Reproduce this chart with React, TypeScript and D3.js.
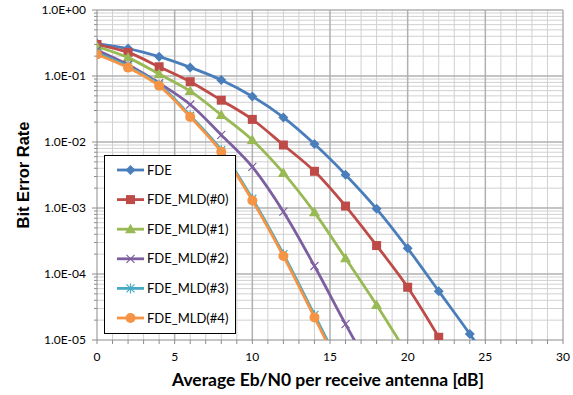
import React, { useEffect, useRef } from 'react'
import * as d3 from 'd3'

// Eb/N0 points (dB), step 2
const snrFDE = [0, 2, 4, 6, 8, 10, 12, 14, 16, 18, 20, 22, 24, 26]
const berFDE = [0.31, 0.26, 0.196, 0.135, 0.087, 0.049, 0.0236, 0.0093, 0.0032, 0.00097, 0.000245, 5.5e-5, 1.23e-5, 2.5e-6]
const snrMLD0 = [0, 2, 4, 6, 8, 10, 12, 14, 16, 18, 20, 22]
const berMLD0 = [0.3, 0.228, 0.138, 0.082, 0.043, 0.022, 0.009, 0.0036, 0.00107, 0.00027, 6.3e-5, 1.1e-5]
const snrMLD1 = [0, 2, 4, 6, 8, 10, 12, 14, 16, 18, 20]
const berMLD1 = [0.28, 0.19, 0.107, 0.059, 0.0257, 0.0107, 0.0034, 0.00086, 0.000173, 3.4e-5, 6e-6]
const snrMLD2 = [0, 2, 4, 6, 8, 10, 12, 14, 16, 18]
const berMLD2 = [0.245, 0.148, 0.078, 0.037, 0.0128, 0.0042, 0.00088, 0.000132, 1.74e-5, 2.5e-6]
const snrMLD3 = [0, 2, 4, 6, 8, 10, 12, 14, 16]
const berMLD3 = [0.222, 0.139, 0.074, 0.025, 0.0075, 0.00138, 0.0002, 2.4e-5, 2.8e-6]
const snrMLD4 = [0, 2, 4, 6, 8, 10, 12, 14, 16]
const berMLD4 = [0.212, 0.134, 0.071, 0.024, 0.0071, 0.0013, 0.000187, 2.2e-5, 2.5e-6]

const seriesNames = ['FDE', 'FDE_MLD(#0)', 'FDE_MLD(#1)', 'FDE_MLD(#2)', 'FDE_MLD(#3)', 'FDE_MLD(#4)']
const seriesColors = ['#4a7ebb', '#be4b48', '#98b954', '#7d5fa0', '#46aac5', '#f59444']
const seriesMarkers = ['diamond', 'square', 'triangle', 'x', 'star', 'circle']
const seriesX = [snrFDE, snrMLD0, snrMLD1, snrMLD2, snrMLD3, snrMLD4]
const seriesY = [berFDE, berMLD0, berMLD1, berMLD2, berMLD3, berMLD4]

const xTicks = [0, 5, 10, 15, 20, 25, 30]
const yTicks = [1, 1e-1, 1e-2, 1e-3, 1e-4, 1e-5]

const fmtE = (v: number) => {
  const e = Math.round(Math.log10(v))
  const s = e < 0 ? '-' : '+'
  return `1.0E${s}${String(Math.abs(e)).padStart(2, '0')}`
}

function drawMarker(g: any, kind: string, cx: number, cy: number, color: string) {
  if (kind === 'diamond') {
    g.append('path').attr('d', `M${cx},${cy - 5}L${cx + 5},${cy}L${cx},${cy + 5}L${cx - 5},${cy}Z`).attr('fill', color)
  } else if (kind === 'square') {
    g.append('rect').attr('x', cx - 4.5).attr('y', cy - 4.5).attr('width', 9).attr('height', 9).attr('fill', color)
  } else if (kind === 'triangle') {
    g.append('path').attr('d', `M${cx},${cy - 5.5}L${cx + 5.5},${cy + 4}L${cx - 5.5},${cy + 4}Z`).attr('fill', color)
  } else if (kind === 'x') {
    g.append('path').attr('d', `M${cx - 4},${cy - 4}L${cx + 4},${cy + 4}M${cx + 4},${cy - 4}L${cx - 4},${cy + 4}`)
      .attr('stroke', color).attr('stroke-width', 1.2).attr('fill', 'none')
  } else if (kind === 'star') {
    g.append('path').attr('d', `M${cx - 4},${cy - 4}L${cx + 4},${cy + 4}M${cx + 4},${cy - 4}L${cx - 4},${cy + 4}M${cx},${cy - 5}L${cx},${cy + 5}`)
      .attr('stroke', color).attr('stroke-width', 1.2).attr('fill', 'none')
  } else {
    g.append('circle').attr('cx', cx).attr('cy', cy).attr('r', 5).attr('fill', color)
  }
}

export default function App() {
  const svgRef = useRef<SVGSVGElement>(null)

  useEffect(() => {
    const width = 573, height = 395
    const m = { left: 97, right: 10, top: 10, bottom: 55 }
    const svg = d3.select(svgRef.current)
    svg.selectAll('*').remove()
    const x = d3.scaleLinear().domain([0, 30]).range([m.left, width - m.right])
    const y = d3.scaleLog().domain([1e-5, 1]).range([height - m.bottom, m.top])
    const font = 'Lato, "Open Sans", sans-serif'

    svg.append('rect').attr('width', width).attr('height', height).attr('fill', '#fff')

    // grid
    const grid = svg.append('g')
    const minorY: number[] = []
    for (let e = -5; e < 0; e++) for (let k = 2; k <= 9; k++) minorY.push(k * Math.pow(10, e))
    grid.selectAll('.gy').data(minorY).join('line')
      .attr('x1', x(0)).attr('x2', x(30)).attr('y1', d => y(d)).attr('y2', d => y(d))
      .attr('stroke', '#d0d0d0').attr('stroke-width', 1)
    grid.selectAll('.gx').data(d3.range(1, 31).filter(v => v % 5 !== 0)).join('line')
      .attr('x1', d => x(d)).attr('x2', d => x(d)).attr('y1', y(1)).attr('y2', y(1e-5))
      .attr('stroke', '#d0d0d0').attr('stroke-width', 1)
    grid.selectAll('.gyM').data(yTicks.slice(0, 5)).join('line')
      .attr('x1', x(0)).attr('x2', x(30)).attr('y1', d => y(d)).attr('y2', d => y(d))
      .attr('stroke', '#b0b0b0').attr('stroke-width', 1.5)
    grid.selectAll('.gxM').data(xTicks.slice(1)).join('line')
      .attr('x1', d => x(d)).attr('x2', d => x(d)).attr('y1', y(1)).attr('y2', y(1e-5))
      .attr('stroke', '#b0b0b0').attr('stroke-width', 1.5)

    // axes
    const ax = svg.append('g')
    ax.append('line').attr('x1', x(0)).attr('x2', x(30)).attr('y1', y(1e-5)).attr('y2', y(1e-5)).attr('stroke', '#8c8c8c')
    ax.append('line').attr('x1', x(0)).attr('x2', x(0)).attr('y1', y(1)).attr('y2', y(1e-5)).attr('stroke', '#8c8c8c')
    ax.selectAll('.tx').data(d3.range(0, 31)).join('line')
      .attr('x1', d => x(d)).attr('x2', d => x(d)).attr('y1', y(1e-5)).attr('y2', y(1e-5) + 4).attr('stroke', '#8c8c8c')
    ax.selectAll('.tym').data(minorY).join('line')
      .attr('x1', x(0) - 3).attr('x2', x(0)).attr('y1', d => y(d)).attr('y2', d => y(d)).attr('stroke', '#8c8c8c')
    ax.selectAll('.tyM').data(yTicks).join('line')
      .attr('x1', x(0) - 5).attr('x2', x(0)).attr('y1', d => y(d)).attr('y2', d => y(d)).attr('stroke', '#8c8c8c')
    ax.selectAll('.lx').data(xTicks).join('text')
      .attr('x', d => x(d)).attr('y', y(1e-5) + 21).attr('text-anchor', 'middle')
      .attr('font-family', font).attr('font-size', 12).attr('fill', '#000').text(d => d)
    ax.selectAll('.ly').data(yTicks).join('text')
      .attr('x', x(0) - 11).attr('y', d => y(d) + 4).attr('text-anchor', 'end')
      .attr('font-family', font).attr('font-size', 12).attr('fill', '#000').text(d => fmtE(d))

    svg.append('text').attr('transform', `translate(29,${(y(1) + y(1e-5)) / 2}) rotate(-90)`)
      .attr('text-anchor', 'middle').attr('font-family', '"Liberation Sans", Arial, sans-serif')
      .attr('font-weight', 'bold').attr('font-size', 16)
      .attr('textLength', 107).attr('lengthAdjust', 'spacingAndGlyphs').text('Bit Error Rate')
    svg.append('text').attr('x', 328).attr('y', 386).attr('text-anchor', 'middle')
      .attr('font-family', font).attr('font-weight', 'bold').attr('font-size', 16.5)
      .attr('textLength', 312).attr('lengthAdjust', 'spacingAndGlyphs')
      .text('Average Eb/N0 per receive antenna [dB]')

    // series
    svg.append('clipPath').attr('id', 'plotclip').append('rect')
      .attr('x', x(0)).attr('y', y(1)).attr('width', x(30) - x(0)).attr('height', y(1e-5) - y(1))
    const plot = svg.append('g').attr('clip-path', 'url(#plotclip)')
    const line = d3.line<[number, number]>().x(d => x(d[0])).y(d => y(d[1])).curve(d3.curveCatmullRom)
    seriesNames.forEach((name, i) => {
      const pts: [number, number][] = seriesX[i].map((v, j) => [v, seriesY[i][j]])
      plot.append('path').datum(pts).attr('d', line).attr('fill', 'none')
        .attr('stroke', seriesColors[i]).attr('stroke-width', 2.8)
      const mg = plot.append('g')
      pts.forEach(p => drawMarker(mg, seriesMarkers[i], x(p[0]), y(p[1]), seriesColors[i]))
    })

    // legend
    const lg = svg.append('g')
    lg.append('rect').attr('x', 104.5).attr('y', 155.5).attr('width', 131).attr('height', 178)
      .attr('fill', '#fff').attr('stroke', '#000').attr('stroke-width', 1)
    seriesNames.forEach((name, i) => {
      const ly = 170 + i * 29.6
      lg.append('line').attr('x1', 117).attr('x2', 144).attr('y1', ly).attr('y2', ly)
        .attr('stroke', seriesColors[i]).attr('stroke-width', 2.8)
      drawMarker(lg, seriesMarkers[i], 130.5, ly, seriesColors[i])
      lg.append('text').attr('x', 147).attr('y', ly + 4.5).attr('font-family', font)
        .attr('font-size', 13).attr('fill', '#000').text(name)
    })
  }, [])

  return <svg ref={svgRef} width={573} height={395} style={{ position: 'absolute', left: 0, top: 0 }} />
}
